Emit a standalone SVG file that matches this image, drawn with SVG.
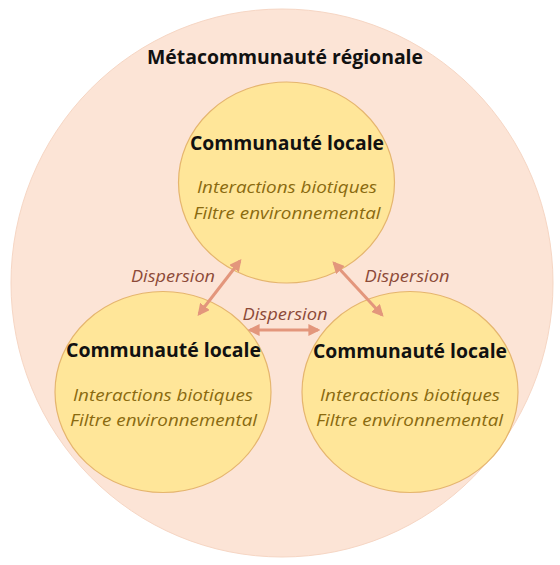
<svg xmlns="http://www.w3.org/2000/svg" width="560" height="565" viewBox="0 0 560 565">
<defs>
<marker id="ah" viewBox="0 0 10 10" refX="8" refY="5" markerWidth="4" markerHeight="4" orient="auto-start-reverse" markerUnits="strokeWidth">
<path d="M0,0 L10,5 L0,10 z" fill="#e3967c"/>
</marker>
<style>
.meta{fill:#fce4d6;stroke:#f6d6c4;stroke-width:1}
.loc{fill:#ffe699;stroke:#e5b56e;stroke-width:1.2}
.t{font-family:"Open Sans","Liberation Sans",sans-serif;font-weight:bold;fill:#111;text-anchor:middle}
.i{font-family:"Open Sans","Liberation Sans",sans-serif;font-style:italic;fill:#8a6a10;text-anchor:middle;font-size:15.5px}
.d{font-family:"Open Sans","Liberation Sans",sans-serif;font-style:italic;fill:#8c4a38;text-anchor:middle;font-size:15.5px}
.c{stroke:#e3967c;stroke-width:3;fill:none;marker-start:url(#ah);marker-end:url(#ah)}
</style>
</defs>
<rect width="560" height="565" fill="#ffffff"/>
<g id="metacommunaute">
<ellipse class="meta" cx="282" cy="283" rx="271" ry="274"/>
<text class="t" x="285" y="64" font-size="20" textLength="276" lengthAdjust="spacingAndGlyphs">Métacommunauté régionale</text>
</g>
<g id="locale-haut">
<ellipse class="loc" cx="286.5" cy="182.5" rx="108" ry="100.5"/>
<text class="t" x="287" y="150" font-size="19" textLength="194" lengthAdjust="spacingAndGlyphs">Communauté locale</text>
<text class="i" x="287" y="193" textLength="180" lengthAdjust="spacingAndGlyphs">Interactions biotiques</text>
<text class="i" x="287" y="219" textLength="187" lengthAdjust="spacingAndGlyphs">Filtre environnemental</text>
</g>
<g id="locale-gauche">
<ellipse class="loc" cx="163" cy="392" rx="108" ry="100.5"/>
<text class="t" x="163.5" y="357" font-size="19" textLength="195" lengthAdjust="spacingAndGlyphs">Communauté locale</text>
<text class="i" x="163" y="401" textLength="180" lengthAdjust="spacingAndGlyphs">Interactions biotiques</text>
<text class="i" x="163.5" y="426" textLength="187" lengthAdjust="spacingAndGlyphs">Filtre environnemental</text>
</g>
<g id="locale-droite">
<ellipse class="loc" cx="410" cy="392" rx="108" ry="100.5"/>
<text class="t" x="410" y="358" font-size="19" textLength="194" lengthAdjust="spacingAndGlyphs">Communauté locale</text>
<text class="i" x="410" y="401" textLength="180" lengthAdjust="spacingAndGlyphs">Interactions biotiques</text>
<text class="i" x="409.5" y="426" textLength="187" lengthAdjust="spacingAndGlyphs">Filtre environnemental</text>
</g>
<g id="connecteurs">
<line class="c" x1="240" y1="261" x2="199" y2="314"/>
<line class="c" x1="334" y1="263" x2="382" y2="315"/>
<line class="c" x1="250" y1="330" x2="318" y2="330"/>
<text class="d" x="173" y="282" textLength="84" lengthAdjust="spacingAndGlyphs">Dispersion</text>
<text class="d" x="407" y="282" textLength="85" lengthAdjust="spacingAndGlyphs">Dispersion</text>
<text class="d" x="285" y="320" textLength="85" lengthAdjust="spacingAndGlyphs">Dispersion</text>
</g>
</svg>
